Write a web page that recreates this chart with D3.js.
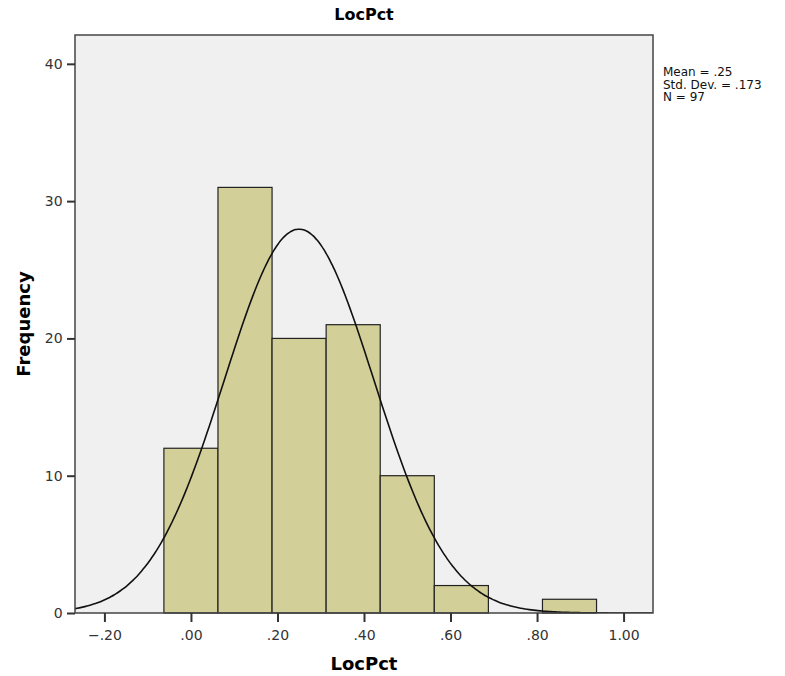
<!DOCTYPE html>
<html>
<head>
<meta charset="utf-8">
<script src="https://cdn.jsdelivr.net/npm/d3@7"></script>
<style>
  body { margin: 0; background: #fff; }
  svg { display: block; font-family: "DejaVu Sans", sans-serif; }
</style>
</head>
<body>
<div id="chart"></div>
<script>
// histogram bins (lower / upper edge) and counts
const binStarts = [-0.0625, 0.0625, 0.1875, 0.3125, 0.4375, 0.5625, 0.6875, 0.8125];
const binWidth = 0.125;
const counts = [12, 31, 20, 21, 10, 2, 0, 1];

// summary stats shown in the legend, also used for the normal curve
const mean = 0.25;
const stdDev = 0.173;
const n = 97;
const statLabels = ['Mean = .25', 'Std. Dev. = .173', 'N = 97'];

const xTicks = [-0.2, 0, 0.2, 0.4, 0.6, 0.8, 1.0];
const yTicks = [0, 10, 20, 30, 40];

const width = 785, height = 676;
const plot = { l: 75, t: 35, r: 653, b: 613 };

const svg = d3.select('#chart').append('svg').attr('width', width).attr('height', height);

// scales
const xScale = d3.scaleLinear().domain([-0.268, 1.068]).range([plot.l, plot.r]);
const yScale = d3.scaleLinear().domain([0, 42.1]).range([plot.b, plot.t]);

// background
svg.append('rect')
  .attr('x', plot.l).attr('y', plot.t)
  .attr('width', plot.r - plot.l).attr('height', plot.b - plot.t)
  .attr('fill', '#f0f0f0');

svg.append('clipPath').attr('id', 'clip')
  .append('rect')
  .attr('x', plot.l).attr('y', plot.t)
  .attr('width', plot.r - plot.l).attr('height', plot.b - plot.t);

// bars
const bars = binStarts.map((s, i) => ({ x0: s, x1: s + binWidth, count: counts[i] })).filter(d => d.count > 0);
svg.append('g').selectAll('rect').data(bars).join('rect')
  .attr('x', d => xScale(d.x0))
  .attr('y', d => yScale(d.count))
  .attr('width', d => xScale(d.x1) - xScale(d.x0))
  .attr('height', d => yScale(0) - yScale(d.count))
  .attr('fill', '#d3cf99')
  .attr('stroke', '#222')
  .attr('stroke-width', 1.2);

// normal curve from the stats
const normal = x => n * binWidth / (stdDev * Math.sqrt(2 * Math.PI)) * Math.exp(-0.5 * ((x - mean) / stdDev) ** 2);
const curvePts = d3.range(xScale.domain()[0], xScale.domain()[1] + 0.001, 0.005);
svg.append('path')
  .datum(curvePts)
  .attr('clip-path', 'url(#clip)')
  .attr('fill', 'none')
  .attr('stroke', '#111')
  .attr('stroke-width', 1.6)
  .attr('d', d3.line().x(d => xScale(d)).y(d => yScale(normal(d))).curve(d3.curveBasis));

// frame
svg.append('rect')
  .attr('x', plot.l).attr('y', plot.t)
  .attr('width', plot.r - plot.l).attr('height', plot.b - plot.t)
  .attr('fill', 'none').attr('stroke', '#444').attr('stroke-width', 1.5);

// axes
const fmtX = d => d === 0 ? '.00' : (Math.abs(d) >= 1 ? d3.format('.2f')(d) : d3.format('.2f')(d).replace('0.', '.'));
const xAxis = svg.append('g').attr('transform', `translate(0,${plot.b})`)
  .call(d3.axisBottom(xScale).tickValues(xTicks).tickSize(9).tickFormat(fmtX));
const yAxis = svg.append('g').attr('transform', `translate(${plot.l},0)`)
  .call(d3.axisLeft(yScale).tickValues(yTicks).tickSize(8));

[xAxis, yAxis].forEach(g => {
  g.select('.domain').remove();
  g.selectAll('.tick line').attr('stroke', '#333').attr('stroke-width', 2);
  g.selectAll('.tick text').attr('fill', '#333').style('font-size', '14px')
    .style('font-family', '"DejaVu Sans", sans-serif');
});
xAxis.selectAll('.tick text').attr('dy', '1.1em');
yAxis.selectAll('.tick text').attr('dx', '-0.1em');

// titles
svg.append('text').attr('x', (plot.l + plot.r) / 2).attr('y', 20)
  .attr('text-anchor', 'middle').style('font-size', '16px').style('font-weight', 'bold')
  .text('LocPct');

svg.append('text').attr('x', (plot.l + plot.r) / 2).attr('y', 670)
  .attr('text-anchor', 'middle').style('font-size', '18px').style('font-weight', 'bold')
  .text('LocPct');

svg.append('text').attr('transform', `translate(30,${(plot.t + plot.b) / 2}) rotate(-90)`)
  .attr('text-anchor', 'middle').style('font-size', '18px').style('font-weight', 'bold')
  .text('Frequency');

// stats legend
svg.append('g').selectAll('text').data(statLabels).join('text')
  .attr('x', 663).attr('y', (d, i) => 76 + i * 12.5)
  .style('font-size', '12px').attr('fill', '#111')
  .text(d => d);
</script>
</body>
</html>
